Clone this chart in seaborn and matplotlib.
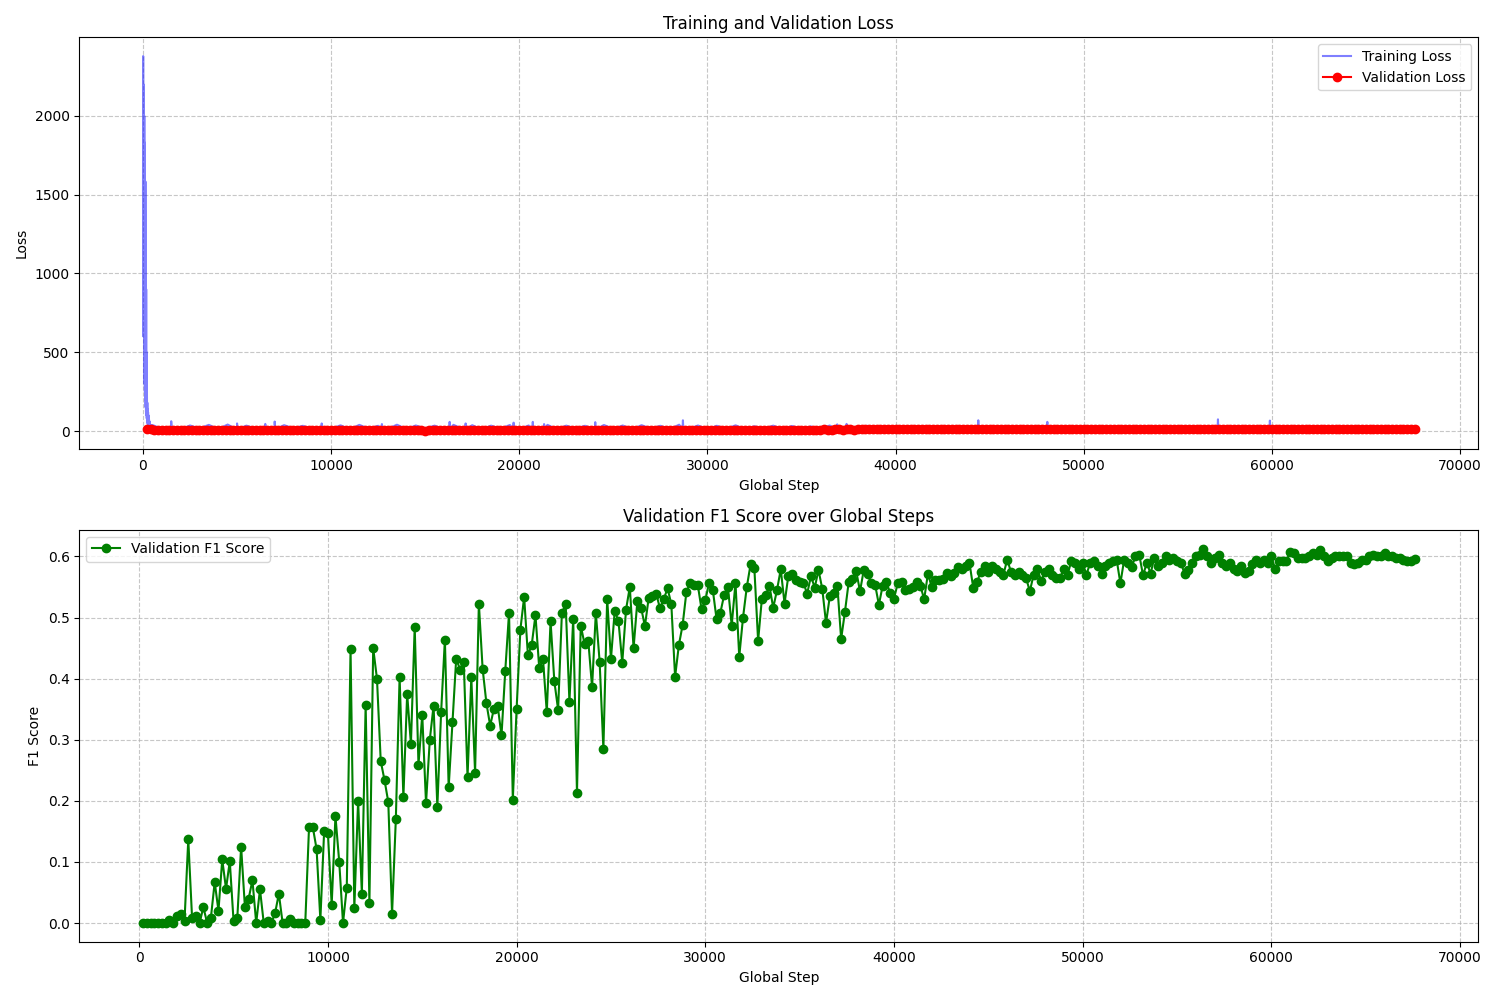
import numpy as np
import matplotlib
matplotlib.use("Agg")
import matplotlib.pyplot as plt
import seaborn as sns

# ---------------- data ----------------
EVAL_EVERY = 200
eval_steps = np.arange(200, 67601, EVAL_EVERY)

f1_part_a = [0, 0, 0, 0, 0, 0, 0, 0.005, 0, 0.012,
             0.014, 0.003, 0.137, 0.009, 0.011, 0, 0.026, 0, 0.009, 0.067,
             0.02, 0.104, 0.056, 0.101, 0.003, 0.009, 0.125, 0.027, 0.04, 0.07,
             0, 0.055, 0, 0.003, 0, 0.016, 0.048, 0, 0, 0.006,
             0, 0, 0, 0, 0.157, 0.157, 0.121, 0.005, 0.15, 0.147]
f1_part_b = [0.03, 0.175, 0.1, 0, 0.058, 0.448, 0.024, 0.2, 0.048, 0.357,
             0.033, 0.45, 0.4, 0.265, 0.234, 0.198, 0.015, 0.17, 0.403, 0.206,
             0.375, 0.293, 0.485, 0.259, 0.341, 0.196, 0.3, 0.356, 0.19, 0.345,
             0.464, 0.222, 0.329, 0.433, 0.415, 0.428, 0.239, 0.402, 0.246, 0.523,
             0.416, 0.36, 0.323, 0.351, 0.355, 0.307, 0.413, 0.508, 0.202, 0.35]
f1_part_c = [0.48, 0.534, 0.438, 0.455, 0.504, 0.417, 0.432, 0.345, 0.494, 0.396,
             0.349, 0.507, 0.523, 0.362, 0.498, 0.213, 0.487, 0.457, 0.462, 0.386,
             0.508, 0.428, 0.285, 0.531, 0.432, 0.511, 0.494, 0.426, 0.513, 0.55,
             0.45, 0.527, 0.516, 0.486, 0.532, 0.535, 0.539, 0.515, 0.53, 0.548,
             0.522, 0.403, 0.455, 0.488, 0.542, 0.557, 0.554, 0.554, 0.514, 0.528,
             0.557, 0.545, 0.497, 0.508, 0.537, 0.55, 0.487, 0.557, 0.436, 0.5,
             0.55, 0.587, 0.581, 0.462, 0.531, 0.537, 0.552, 0.516, 0.545, 0.579,
             0.523, 0.568, 0.572, 0.562, 0.558, 0.557, 0.539, 0.568, 0.549, 0.578,
             0.547, 0.491, 0.535, 0.54, 0.552, 0.465, 0.509, 0.558, 0.563, 0.576,
             0.543, 0.578, 0.571, 0.556, 0.554, 0.521, 0.552, 0.558, 0.54, 0.531,
             0.556, 0.558, 0.545, 0.546, 0.55, 0.558, 0.552, 0.53, 0.572, 0.55,
             0.562, 0.562, 0.563, 0.573, 0.568, 0.573, 0.583]
f1_part_d = [0.58, 0.585, 0.59, 0.549, 0.558, 0.575, 0.585, 0.575, 0.585, 0.58,
             0.575, 0.57, 0.595, 0.575, 0.57, 0.575, 0.57, 0.565, 0.543, 0.57,
             0.58, 0.56, 0.575, 0.58, 0.57, 0.565, 0.565, 0.58, 0.57, 0.593,
             0.59, 0.58, 0.59, 0.57, 0.59, 0.593, 0.585, 0.572, 0.585, 0.59,
             0.592, 0.595, 0.556, 0.595, 0.59, 0.583, 0.6, 0.603, 0.569, 0.59,
             0.572, 0.598, 0.585, 0.59, 0.6, 0.595, 0.598, 0.593, 0.59, 0.572,
             0.578, 0.59, 0.6, 0.603, 0.613, 0.6, 0.59, 0.598, 0.603, 0.59,
             0.585, 0.59, 0.58, 0.577, 0.585, 0.573, 0.577, 0.588, 0.595, 0.59,
             0.595, 0.59, 0.6, 0.58, 0.593, 0.593, 0.593, 0.607, 0.605, 0.598,
             0.598, 0.598, 0.6, 0.605, 0.603, 0.61, 0.6, 0.593, 0.597, 0.6,
             0.6, 0.6, 0.6, 0.59, 0.588, 0.59, 0.595, 0.595, 0.6, 0.603,
             0.6, 0.6, 0.605, 0.6, 0.6, 0.598, 0.597, 0.595, 0.593, 0.593,
             0.596]
val_f1 = f1_part_a + f1_part_b + f1_part_c + f1_part_d

val_loss = [
    14.5, 10.2, 8.7, 7.9, 7.1, 6.8, 7.4, 6.2, 5.9, 6.5, 5.4, 6.1, 5.8, 4.9, 5.6, 6.3, 5.1, 4.7, 5.5, 6.0,
    5.2, 4.8, 5.7, 6.4, 4.5, 5.0, 5.9, 4.2, 4.9, 5.3, 6.1, 4.4, 3.9, 5.2, 4.6, 5.8, 4.1, 4.8, 5.5, 3.7,
    4.3, 5.1, 6.7, 4.0, 3.5, 4.6, 5.4, 4.9, 3.8, 4.4, 6.2, 5.0, 3.6, 4.2, 5.7, 4.8, 3.3, 4.5, 5.2, 4.1,
    3.9, 4.7, 5.6, 3.4, 4.3, 6.0, 4.6, 3.7, 4.9, 5.3, 3.5, 4.0, 5.8, 4.4, 3.2, 4.8, 5.1, 3.9, 4.5, 5.5,
    3.6, 4.2, 6.3, 4.7, 3.8, 4.1, 5.0, 3.4, 4.6, 5.7, 4.3, 3.5, 4.9, 5.4, 3.9, 4.4, 6.1, 4.0, 3.7, 4.8,
    5.2, 3.6, 4.3, 5.9, 4.5, 3.8, 4.9, 5.5, 4.1, 3.6, 4.7, 6.2, 4.4, 3.9, 5.1, 4.6, 3.7, 5.3, 4.8, 4.2,
    5.6, 4.0, 4.7, 6.0, 4.3, 5.1, 4.5, 5.8, 4.9, 5.3, 6.4, 4.8, 5.5, 6.1, 5.0, 5.7, 6.6, 5.2, 5.9, 6.3,
    5.6, 6.8, 6.1, 5.4, 7.0, 6.5, 5.8, 7.2, 6.6, 6.0, 7.4, 6.9, 6.3, 7.6, 7.1, 6.6, 7.9, 7.3, 6.8, 8.1,
    7.5, 7.0, 8.3, 7.8, 7.2, 8.5, 8.0, 7.6, 8.8, 8.2, 7.9, 9.0, 8.6, 8.1, 9.3, 8.8, 8.4, 9.5, 9.1, 8.7,
    9.8, 9.3, 8.9, 10.0, 9.6, 9.2, 10.3, 9.9, 9.5, 10.5, 10.1, 9.8, 10.7, 10.4, 10.0, 10.9, 10.6, 10.3, 11.1, 10.8,
    10.5, 11.3, 11.0, 10.8, 11.5, 11.2, 11.0, 11.7, 11.4, 11.2, 11.8, 11.6, 11.4, 12.0, 11.8, 11.6, 12.1, 11.9, 11.8, 12.2,
    12.1, 12.3, 12.2, 12.4, 12.3, 12.5, 12.4, 12.3, 12.5, 12.6, 12.4, 12.5, 12.6, 12.5, 12.7, 12.6, 12.5, 12.7, 12.6, 12.8,
    12.7, 12.6, 12.8, 12.7, 12.9, 12.8, 12.7, 12.9, 12.8, 13.0, 12.9, 12.8, 13.0, 12.9, 13.1, 13.0, 12.9, 13.1, 13.0, 13.2,
    13.1, 13.0, 13.2, 13.1, 13.3, 13.2, 13.1, 13.3, 13.2, 13.4, 13.3, 13.2, 13.4, 13.3, 13.5, 13.4, 13.3, 13.5, 13.4, 13.6,
    13.5, 13.4, 13.6, 13.5, 13.7, 13.6, 13.5, 13.7, 13.6, 13.8, 13.7, 13.6, 13.8, 13.7, 13.9, 13.8, 13.7, 13.9, 13.8, 14.0,
    13.9, 13.8, 14.0, 13.9, 14.1, 14.0, 13.9, 14.1, 14.0, 14.2, 14.1, 14.0, 14.2, 14.1, 14.3, 14.2, 14.1, 14.3, 14.2, 14.4,
    14.3, 14.2, 14.4, 14.3, 14.5, 14.4, 14.3, 14.5, 14.4, 14.6, 14.5, 14.4, 14.6, 14.5, 14.7, 14.6, 14.5, 14.7,
]

# training loss: dense start, regular log every 500 steps, isolated spikes
train_early_steps = [0, 10, 20, 30, 40, 50, 60, 70, 80, 90, 100, 110, 120, 130, 140, 150, 160, 170,
                     180, 190, 200, 210, 220, 230, 240, 250, 260, 270, 280, 290, 300, 320, 340,
                     360, 380, 400, 440, 480]
train_early_loss = [1500, 2380, 600, 2200, 900, 1700, 400, 2000, 300, 1831, 250, 1400, 200, 1584,
                    150, 1200, 120, 900, 100, 500, 80, 249, 60, 180, 50, 140, 40, 120, 35, 100,
                    30, 73, 25, 60, 20, 40, 18, 30]
train_base_steps = np.arange(500, 67501, 500)
train_base_loss = [
    38, 14, 40, 11, 35, 16, 39, 12, 41, 13, 34, 15, 39, 10, 37, 17, 33, 12, 40, 14,
    36, 11, 39, 15, 33, 13, 40, 12, 35, 16, 34, 11, 39, 14, 37, 10, 34, 15, 38, 12,
    35, 13, 39, 11, 34, 16, 33, 12, 38, 14, 35, 10, 37, 15, 33, 12, 40, 13, 35, 11,
    33, 14, 36, 12, 30, 15, 34, 11, 32, 13, 29, 12, 35, 14, 30, 11, 33, 13, 29, 12,
    28, 14, 31, 12, 27, 15, 30, 11, 26, 13, 29, 12, 25, 14, 28, 11, 26, 13, 27, 12,
    25, 14, 27, 12, 24, 15, 26, 11, 23, 13, 25, 12, 22, 14, 24, 11, 23, 13, 25, 12,
    23, 14, 22, 12, 24, 15, 21, 11, 23, 13, 22, 12, 21, 14, 20,
]
train_spike_steps = [1480, 1500, 1520, 4980, 5000, 5020, 6480, 6500, 6520, 6980, 7000, 7020,
                     9480, 9500, 9520, 12680, 12700, 12720, 16280, 16300, 16320,
                     17130, 17150, 17170, 19680, 19700, 19720, 20700, 20720, 20740,
                     21300, 21320, 21340, 24020, 24040, 24060, 28680, 28700, 28720,
                     36880, 36900, 36920, 37380, 37400, 37420, 44380, 44400, 44420,
                     48050, 48070, 48090, 57120, 57140, 57160, 59880, 59900, 59920]
train_spike_loss = [12, 62, 11, 10, 48, 12, 11, 45, 10, 12, 60, 11,
                    10, 48, 12, 11, 44, 10, 12, 58, 11,
                    10, 48, 12, 11, 53, 10, 12, 58, 11,
                    10, 44, 12, 11, 56, 10, 12, 68, 11,
                    10, 42, 12, 11, 45, 10, 12, 68, 11,
                    10, 58, 12, 11, 74, 10, 12, 66, 11]

train_steps = np.concatenate([train_early_steps, train_base_steps, train_spike_steps])
train_loss = np.concatenate([train_early_loss, train_base_loss, train_spike_loss]).astype(float)
order = np.argsort(train_steps, kind="stable")
train_steps = train_steps[order]
train_loss = train_loss[order]

# ---------------- plot ----------------
fig, (ax1, ax2) = plt.subplots(2, 1, figsize=(15, 10), dpi=100)

sns.lineplot(x=train_steps, y=train_loss, ax=ax1, color="blue", alpha=0.5,
             label="Training Loss", sort=False, estimator=None, errorbar=None, linewidth=1.5)
sns.lineplot(x=eval_steps, y=val_loss, ax=ax1, color="red", marker="o",
             markeredgecolor="red", markeredgewidth=1.0, markersize=6,
             label="Validation Loss", sort=False, estimator=None, errorbar=None, linewidth=1.5)
ax1.set_title("Training and Validation Loss")
ax1.set_xlabel("Global Step")
ax1.set_ylabel("Loss")
ax1.legend(loc="upper right")
ax1.grid(True, linestyle="--", alpha=0.7)

sns.lineplot(x=eval_steps, y=val_f1, ax=ax2, color="green", marker="o",
             markeredgecolor="green", markeredgewidth=1.0, markersize=6,
             label="Validation F1 Score", sort=False, estimator=None, errorbar=None, linewidth=1.5)
ax2.set_title("Validation F1 Score over Global Steps")
ax2.set_xlabel("Global Step")
ax2.set_ylabel("F1 Score")
ax2.legend(loc="upper left")
ax2.grid(True, linestyle="--", alpha=0.7)

plt.tight_layout()
fig.savefig("out.png", dpi=100)
